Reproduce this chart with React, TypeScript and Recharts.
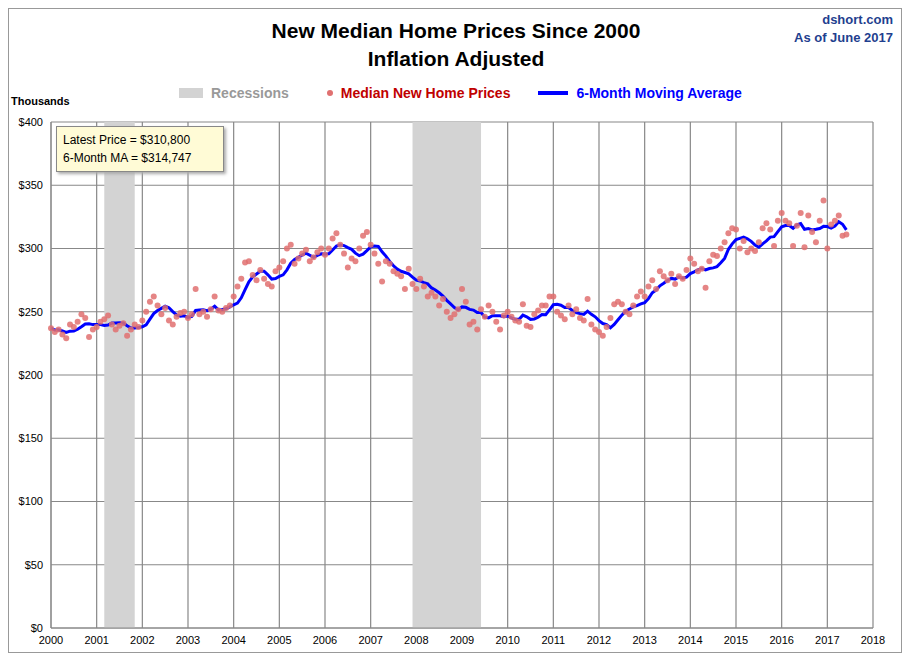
import { ComposedChart, Line, XAxis, YAxis, CartesianGrid, ReferenceArea } from "recharts"

// monthly median new home prices, inflation adjusted ($ thousands), Jan 2000 .. Jun 2017
const prices: number[] = [
  237, 234, 236, 232, 229, 240, 238, 242, 248, 245, 230, 236,
  238, 242, 244, 247, 240, 236, 239, 241, 231, 236, 240, 238,
  243, 250, 258, 262, 255, 248, 253, 243, 240, 246, 249, 250,
  245, 248, 268, 248, 250, 246, 252, 262, 251, 250, 253, 255,
  262, 270, 276, 289, 290, 279, 275, 283, 276, 272, 270, 282,
  285, 290, 300, 303, 288, 292, 296, 299, 290, 293, 297, 300,
  295, 300, 308, 312, 303, 296, 285, 292, 290, 300, 310, 313,
  303, 296, 288, 274, 290, 288, 282, 280, 278, 268, 284, 272,
  268, 276, 270, 262, 265, 262, 255, 260, 250, 245, 248, 252,
  268, 258, 240, 242, 236, 252, 246, 255, 250, 242, 236, 247,
  250, 246, 243, 242, 256, 239, 238, 248, 251, 255, 255, 262,
  262, 250, 247, 244, 255, 248, 252, 245, 243, 260, 240, 236,
  234, 231, 238, 245, 256, 258, 256, 250, 248, 255, 262, 266,
  262, 270, 275, 268, 282, 278, 275, 280, 272, 278, 276, 283,
  292, 288, 282, 284, 269, 290, 295, 294, 300, 305, 312, 316,
  315, 300, 306, 297, 300, 298, 305, 316, 320, 315, 302, 322,
  328, 322, 320, 302, 318, 328, 301, 326, 313, 305, 322, 338,
  300, 319, 322, 326, 310, 311,
]
const yearTicks = [2000, 2001, 2002, 2003, 2004, 2005, 2006, 2007, 2008, 2009, 2010, 2011, 2012, 2013, 2014, 2015, 2016, 2017, 2018]
const priceTicks = [0, 50, 100, 150, 200, 250, 300, 350, 400]
const recessions = [
  [2001 + 2 / 12, 2001 + 10 / 12],
  [2007 + 11 / 12, 2009 + 5 / 12],
]

const data = prices.map((p, i) => {
  const win = prices.slice(Math.max(0, i - 5), i + 1)
  return { t: 2000 + i / 12, price: p, ma: win.reduce((a, b) => a + b, 0) / win.length }
})

const font = "'Liberation Sans', Arial, sans-serif"

export default function App() {
  return (
    <div style={{ position: "relative", width: 894, height: 645, fontFamily: font, border: "1px solid #999", boxSizing: "border-box", background: "#fff" }}>
      <div style={{ position: "absolute", top: 8, left: 0, width: 894, textAlign: "center", fontSize: 21, fontWeight: "bold", lineHeight: "28px" }}>
        New Median Home Prices Since 2000<br />Inflation Adjusted
      </div>
      <div style={{ position: "absolute", top: 2, right: 8, textAlign: "right", fontSize: 13, fontWeight: "bold", color: "#1f3f8f", lineHeight: "18px" }}>
        dshort.com<br />As of June 2017
      </div>
      <div style={{ position: "absolute", top: 86, left: 2, fontSize: 11, fontWeight: "bold" }}>Thousands</div>
      <div style={{ position: "absolute", top: 76, left: 170, fontSize: 14, fontWeight: "bold", display: "flex", alignItems: "center", gap: 8 }}>
        <span style={{ width: 24, height: 10, background: "#d3d3d3", display: "inline-block" }} />
        <span style={{ color: "#999" }}>Recessions</span>
        <span style={{ width: 6, height: 6, borderRadius: 3, background: "#e07070", display: "inline-block", marginLeft: 30 }} />
        <span style={{ color: "#c00000" }}>Median New Home Prices</span>
        <span style={{ width: 30, height: 4, background: "#0000ff", display: "inline-block", marginLeft: 20 }} />
        <span style={{ color: "#0000ff" }}>6-Month Moving Average</span>
      </div>
      <ComposedChart width={894} height={645} data={data} margin={{ top: 113, right: 30, bottom: 6, left: 2 }}>
        <CartesianGrid stroke="#888" strokeWidth={1.2} />
        {recessions.map(([a, b], i) => (
          <ReferenceArea key={i} x1={a} x2={b} y1={0} y2={400} fill="#d3d3d3" fillOpacity={1} stroke="none" />
        ))}
        <XAxis dataKey="t" type="number" domain={[2000, 2018]} ticks={yearTicks} interval={0} height={20}
          tick={{ fontSize: 11, fill: "#000" }} tickLine={false} axisLine={{ stroke: "#888" }} />
        <YAxis type="number" domain={[0, 400]} ticks={priceTicks} width={40} tickFormatter={(v) => `$${v}`}
          tick={{ fontSize: 11, fill: "#000" }} tickLine={false} axisLine={{ stroke: "#888" }} />
        <Line dataKey="price" stroke="none" isAnimationActive={false}
          dot={{ r: 3, fill: "#e07070", fillOpacity: 0.85, stroke: "none" }} activeDot={false} />
        <Line dataKey="ma" stroke="#0000ff" strokeWidth={3} dot={false} isAnimationActive={false} type="linear" />
      </ComposedChart>
      <div style={{ position: "absolute", top: 117, left: 47, width: 168, padding: "4px 6px", boxSizing: "border-box", background: "#fffbd6", border: "1px solid #888", boxShadow: "2px 2px 3px #aaa", fontSize: 12, lineHeight: "18px" }}>
        Latest Price = $310,800<br />6-Month MA = $314,747
      </div>
    </div>
  )
}
